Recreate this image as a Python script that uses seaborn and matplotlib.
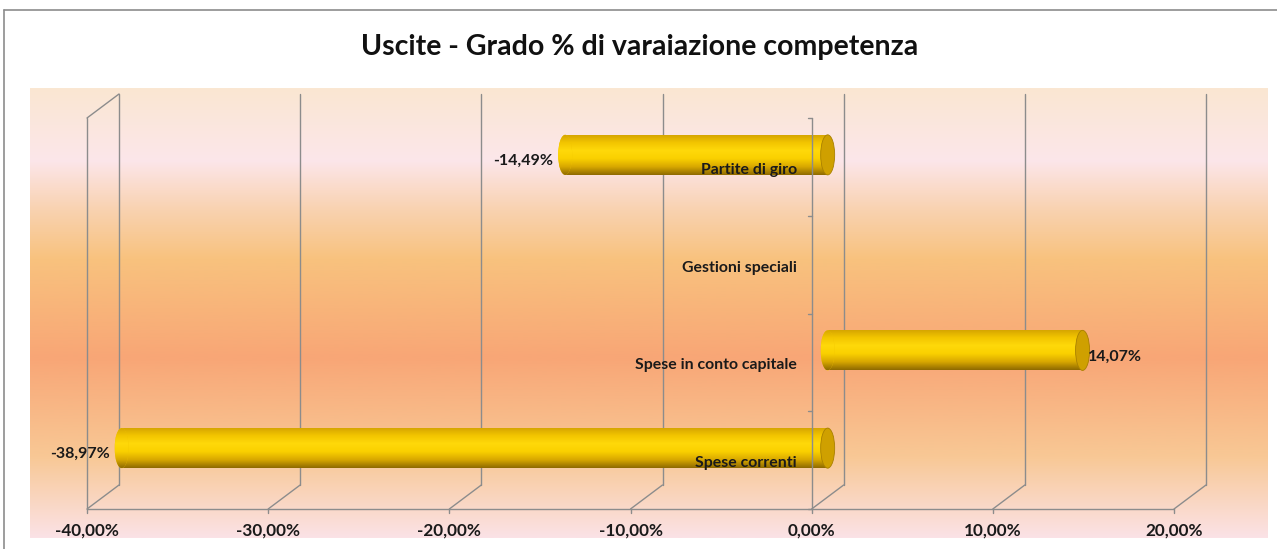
import numpy as np
import pandas as pd
import matplotlib
matplotlib.use("Agg")
import matplotlib.pyplot as plt
from matplotlib.colors import LinearSegmentedColormap
from matplotlib.patches import Ellipse
from matplotlib.lines import Line2D
import seaborn as sns

# dati del grafico
categories = ["Partite di giro", "Gestioni speciali", "Spese in conto capitale", "Spese correnti"]
values = [-14.49, np.nan, 14.07, -38.97]
x_ticks = [-40, -30, -20, -10, 0, 10, 20]
title = "Uscite - Grado % di varaiazione competenza"


def pct(v):
    return f"{v:.2f}%".replace(".", ",")


sns.set_theme(style="white")
plt.rcParams["font.family"] = ["Lato", "DejaVu Sans"]

W, H = 1277, 549
fig = plt.figure(figsize=(W / 100, H / 100), dpi=100)
fig.patch.set_facecolor("white")


def px_box(x0, y0, x1, y1):
    return [x0 / W, 1 - y1 / H, (x1 - x0) / W, (y1 - y0) / H]


# bordo esterno
fig.add_artist(Line2D([4 / W, 4 / W], [0, 1 - 10 / H], transform=fig.transFigure, color="#8c8c8c", lw=1.2))
fig.add_artist(Line2D([4 / W, 1], [1 - 10 / H, 1 - 10 / H], transform=fig.transFigure, color="#8c8c8c", lw=1.2))

# sfondo sfumato dell'area grafico
bg = fig.add_axes(px_box(30, 88, 1268, 538), zorder=0)
stops = [(0.0, "#FAE7D2"), (0.16, "#FCE6EA"), (0.27, "#F9D2B0"), (0.38, "#F8C27E"),
         (0.6, "#F8A676"), (0.82, "#F8C895"), (1.0, "#FBE2E6")]
bg.imshow(np.linspace(0, 1, 256).reshape(-1, 1), aspect="auto",
          cmap=LinearSegmentedColormap.from_list("bg", stops))
bg.axis("off")

# area del tracciato (piano frontale)
ax = fig.add_axes(px_box(87, 118, 1174, 509), zorder=1)
ax.patch.set_alpha(0)

df = pd.DataFrame({"categoria": categories, "valore": values}).dropna()
sns.barplot(data=df, x="valore", y="categoria", order=categories, orient="h",
            width=0.41, color="#F2C400", ax=ax, zorder=3)

xmin, xmax = -40, 20
ax.set_xlim(xmin, xmax)
ax.set_ylim(3.5, -0.5)

# conversione pixel -> dati
px_x = (xmax - xmin) / 1087
px_y = 4 / 391
dxb, dyb = 32 * px_x, -24 * px_y      # profondita' parete di fondo
dxm, dym = 16 * px_x, -12 * px_y      # meta' profondita' (barre)
grid_c = "#8c8c8c"

# pareti e pavimento 3D
for t in x_ticks:
    ax.plot([t + dxb, t + dxb], [-0.5 + dyb, 3.5 + dyb], color=grid_c, lw=1, zorder=1, clip_on=False)
    ax.plot([t, t + dxb], [3.5, 3.5 + dyb], color=grid_c, lw=1, zorder=1, clip_on=False)
    ax.plot([t, t], [3.5, 3.5 + 4 * px_y], color=grid_c, lw=1, zorder=1, clip_on=False)
ax.plot([xmin, xmax], [3.5, 3.5], color=grid_c, lw=1, zorder=1, clip_on=False)
ax.plot([xmin, xmin], [-0.5, 3.5], color=grid_c, lw=1, zorder=1, clip_on=False)
ax.plot([xmin, xmin + dxb], [-0.5, -0.5 + dyb], color=grid_c, lw=1, zorder=1, clip_on=False)

# barre a cilindro
cyl = LinearSegmentedColormap.from_list(
    "cyl", ["#D2A200", "#F2C400", "#FFD90A", "#FAD000", "#D8A800", "#8E6A00"])
shade = np.linspace(0, 1, 128).reshape(-1, 1)
r = 7 * px_x
for bar in list(ax.patches):
    w = bar.get_width()
    if not np.isfinite(w) or w == 0:
        continue
    bar.set_x(bar.get_x() + dxm)
    bar.set_y(bar.get_y() + dym)
    bar.set_edgecolor("none")
    y0, h = bar.get_y(), bar.get_height()
    left = min(bar.get_x(), bar.get_x() + w)
    right = max(bar.get_x(), bar.get_x() + w)
    yc = y0 + h / 2
    im = ax.imshow(shade, cmap=cyl, aspect="auto", extent=[left, right, y0 + h, y0], zorder=3.1)
    im.set_clip_path(bar)
    end = Ellipse((left, yc), 2 * r, h, facecolor="#F2C400", edgecolor="none", zorder=3.1)
    ax.add_patch(end)
    im2 = ax.imshow(shade, cmap=cyl, aspect="auto", extent=[left - r, left + r, y0 + h, y0], zorder=3.2)
    im2.set_clip_path(end)
    ax.add_patch(Ellipse((right, yc), 2 * r, h, facecolor="#CFA000", edgecolor="#A98000",
                         lw=0.6, zorder=3.3))
    v = bar.get_width()
    if v < 0:
        ax.text(left - r - 5 * px_x, yc + 6 * px_y, pct(v), ha="right", va="center",
                fontsize=11.5, fontweight="bold", color="#1a1a1a", zorder=6)
    else:
        ax.text(right + r - 2 * px_x, yc + 6 * px_y, pct(v), ha="left", va="center",
                fontsize=11.5, fontweight="bold", color="#1a1a1a", zorder=6)

ax.set_xlim(xmin, xmax)
ax.set_ylim(3.5, -0.5)

# asse delle categorie (x = 0)
ax.plot([0, 0], [-0.5, 3.5], color=grid_c, lw=1, zorder=4, clip_on=False)
for e in np.arange(-0.5, 4.0, 1.0):
    ax.plot([0, -4 * px_x], [e, e], color=grid_c, lw=1, zorder=4, clip_on=False)
for i, c in enumerate(categories):
    ax.text(-15 * px_x, i + 3 * px_y, c, ha="right", va="center", fontsize=11.4,
            fontweight="bold", color="#1a1a1a", zorder=6)

ax.set_yticks([])
ax.set_xticks(x_ticks)
ax.set_xticklabels([pct(t) for t in x_ticks], fontsize=12.3, fontweight="bold", color="#1a1a1a")
ax.tick_params(axis="x", length=0, pad=10)
ax.set_xlabel("")
ax.set_ylabel("")
for s in ax.spines.values():
    s.set_visible(False)

fig.text(640 / W, 1 - 47 / H, title, ha="center", va="center", fontsize=20.5,
         fontweight="bold", color="#111111")

fig.savefig("out.png", dpi=100)
